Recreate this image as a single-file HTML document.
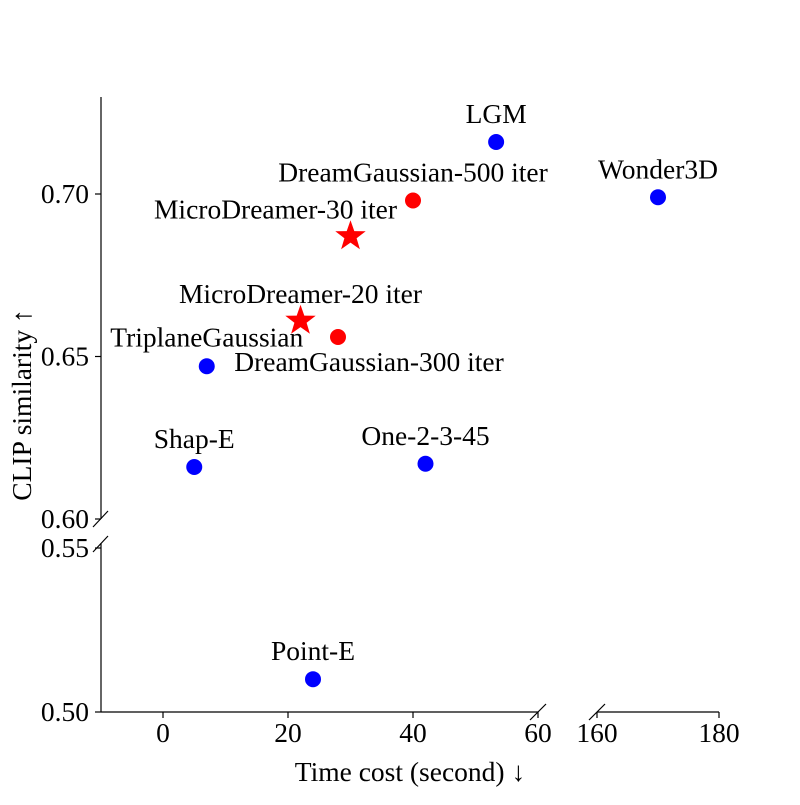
<!DOCTYPE html>
<html><head><meta charset="utf-8"><style>
body{margin:0;background:#fff}
svg text{font-family:"Liberation Serif",serif;fill:#000}
</style></head><body>
<svg id="c" width="800" height="800" xmlns="http://www.w3.org/2000/svg"></svg>
<script>
const names=["LGM","DreamGaussian-500 iter","MicroDreamer-30 iter","MicroDreamer-20 iter","DreamGaussian-300 iter","TriplaneGaussian","Shap-E","One-2-3-45","Point-E","Wonder3D"];
const times=[53.3,40,30,22,28,7,5,42,24,170];
const clips=[0.716,0.698,0.687,0.661,0.656,0.647,0.616,0.617,0.510,0.699];
const kinds=["base","dg","ours","ours","dg","base","base","base","base","base"];
const labelDx=[0,0,-75,0,31,0,0,0,0,0];
const labelDy=[-28,-28,-27,-27,25,-29,-28,-28,-28,-28];
const xTicksL=[0,20,40,60];
const xTicksR=[160,180];
const yTicksU=[0.60,0.65,0.70];
const yTicksL=[0.50,0.55];

const FS=27.5;
const svg=document.getElementById('c');const NS="http://www.w3.org/2000/svg";
function el(t,a,p){const e=document.createElementNS(NS,t);for(const k in a)e.setAttribute(k,a[k]);(p||svg).appendChild(e);return e;}
function xs(t){return t<=100?163+t*6.25:597+(t-160)*6.1;}
function ys(v){return v>=0.58?194+(0.70-v)*3250:712-(v-0.50)*3280;}
const ax=el('g',{});


const ln=(x1,y1,x2,y2)=>el('line',{x1,y1,x2,y2,stroke:'#000','stroke-width':1.2},ax);
ln(101,97,101,519);ln(101,543,101,712);ln(101,712,538,712);ln(597,712,719,712);
ln(93,527,108,511);ln(93,552,108,536);ln(530,720,546,704);ln(589,720,605,704);
function tick(x,y,txt,anchor,dx,dy,name){const t=el('text',{x:x+dx,y:y+dy,'font-size':FS,'text-anchor':anchor},ax);t.textContent=txt;}
xTicksL.concat(xTicksR).forEach(v=>{const x=xs(v);ln(x,712,x,718);tick(x,712,String(v),'middle',0,30,'x-tick-label');});
yTicksU.concat(yTicksL).forEach(v=>{const y=ys(v);ln(95,y,101,y);tick(95,y,v.toFixed(2),'end',-6,9,'y-tick-label');});
const xt=el('text',{x:410,y:781,'font-size':FS,'text-anchor':'middle'});xt.textContent='Time cost (second) ↓';

const yt=el('text',{x:0,y:0,'font-size':FS,'text-anchor':'middle',transform:'translate(31,405) rotate(-90)'});yt.textContent='CLIP similarity ↑';

function star(cx,cy,R){let p=[];for(let i=0;i<10;i++){const r=i%2?R*0.4:R;const a=-Math.PI/2+i*Math.PI/5;p.push((cx+r*Math.cos(a)).toFixed(1)+','+(cy+r*Math.sin(a)).toFixed(1));}return p.join(' ');}
names.forEach((n,i)=>{const x=xs(times[i]),y=ys(clips[i]);let m;
 if(kinds[i]==='ours')m=el('polygon',{points:star(x,y,16),fill:'#f00'});
 else m=el('circle',{cx:x,cy:y,r:8,fill:kinds[i]==='dg'?'#f00':'#00f'});
 
 
 const t=el('text',{x:x+labelDx[i],y:y+labelDy[i]+9,'font-size':FS,'text-anchor':'middle'});t.textContent=n;
 
 
});
</script></body></html>
